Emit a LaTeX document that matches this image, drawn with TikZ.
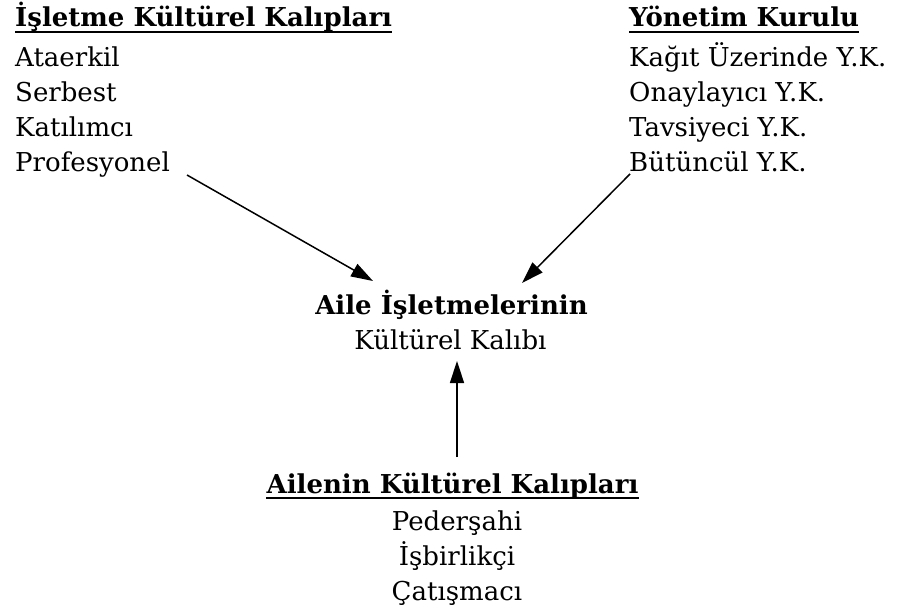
\documentclass[tikz,border=0pt]{standalone}
\usepackage{fontspec}
\setmainfont{DejaVu Serif}
\usetikzlibrary{arrows.meta}
\tikzset{
  txt/.style={inner sep=0pt, font=\fontsize{26}{30}\selectfont},
  ttl/.style={txt, font=\fontsize{26}{30}\selectfont\bfseries},
  ul/.style={line width=1.3pt},
  arr/.style={line width=1.5pt, -{Triangle[length=22pt,width=14pt]}}
}
\begin{document}
\begin{tikzpicture}[x=1pt,y=1pt]
\useasboundingbox (0,0) rectangle (901,-615);
% left block
\node[ttl, anchor=base west] (lt) at (15,-27) {İşletme Kültürel Kalıpları};
\draw[ul] ([yshift=-5pt]lt.base west) -- ([yshift=-5pt]lt.base east);
\node[txt, anchor=base west] (l1) at (15,-66.5) {Ataerkil};
\node[txt, anchor=base west] (l2) at (15,-101.5) {Serbest};
\node[txt, anchor=base west] (l3) at (15,-136.5) {Katılımcı};
\node[txt, anchor=base west] (l4) at (15,-171.5) {Profesyonel};
% right block
\node[ttl, anchor=base west] (rt) at (629,-27) {Yönetim Kurulu};
\draw[ul] ([yshift=-5pt]rt.base west) -- ([yshift=-5pt]rt.base east);
\node[txt, anchor=base west] (r1) at (629,-66.5) {Kağıt Üzerinde Y.K.};
\node[txt, anchor=base west] (r2) at (629,-101.5) {Onaylayıcı Y.K.};
\node[txt, anchor=base west] (r3) at (629,-136.5) {Tavsiyeci Y.K.};
\node[txt, anchor=base west] (r4) at (629,-171.5) {Bütüncül Y.K.};
% center
\node[ttl, anchor=base] (ct) at (451.5,-314) {Aile İşletmelerinin};
\node[txt, anchor=base] (c1) at (450.5,-349) {Kültürel Kalıbı};
% bottom
\node[ttl, anchor=base] (bt) at (452.5,-493) {Ailenin Kültürel Kalıpları};
\draw[ul] ([yshift=-5pt]bt.base west) -- ([yshift=-5pt]bt.base east);
\node[txt, anchor=base] (b1) at (457,-530) {Pederşahi};
\node[txt, anchor=base] (b2) at (457,-565) {İşbirlikçi};
\node[txt, anchor=base] (b3) at (457,-600) {Çatışmacı};
% arrow endpoints
\coordinate (ls) at (187,-175);
\coordinate (le) at (373,-281);
\coordinate (rs) at (630,-174);
\coordinate (re) at (522,-283);
\coordinate (vs) at (457,-457);
\coordinate (ve) at (457,-361);
\draw[arr] (ls) -- (le);
\draw[arr] (rs) -- (re);
\draw[arr] (vs) -- (ve);
\end{tikzpicture}
\end{document}
